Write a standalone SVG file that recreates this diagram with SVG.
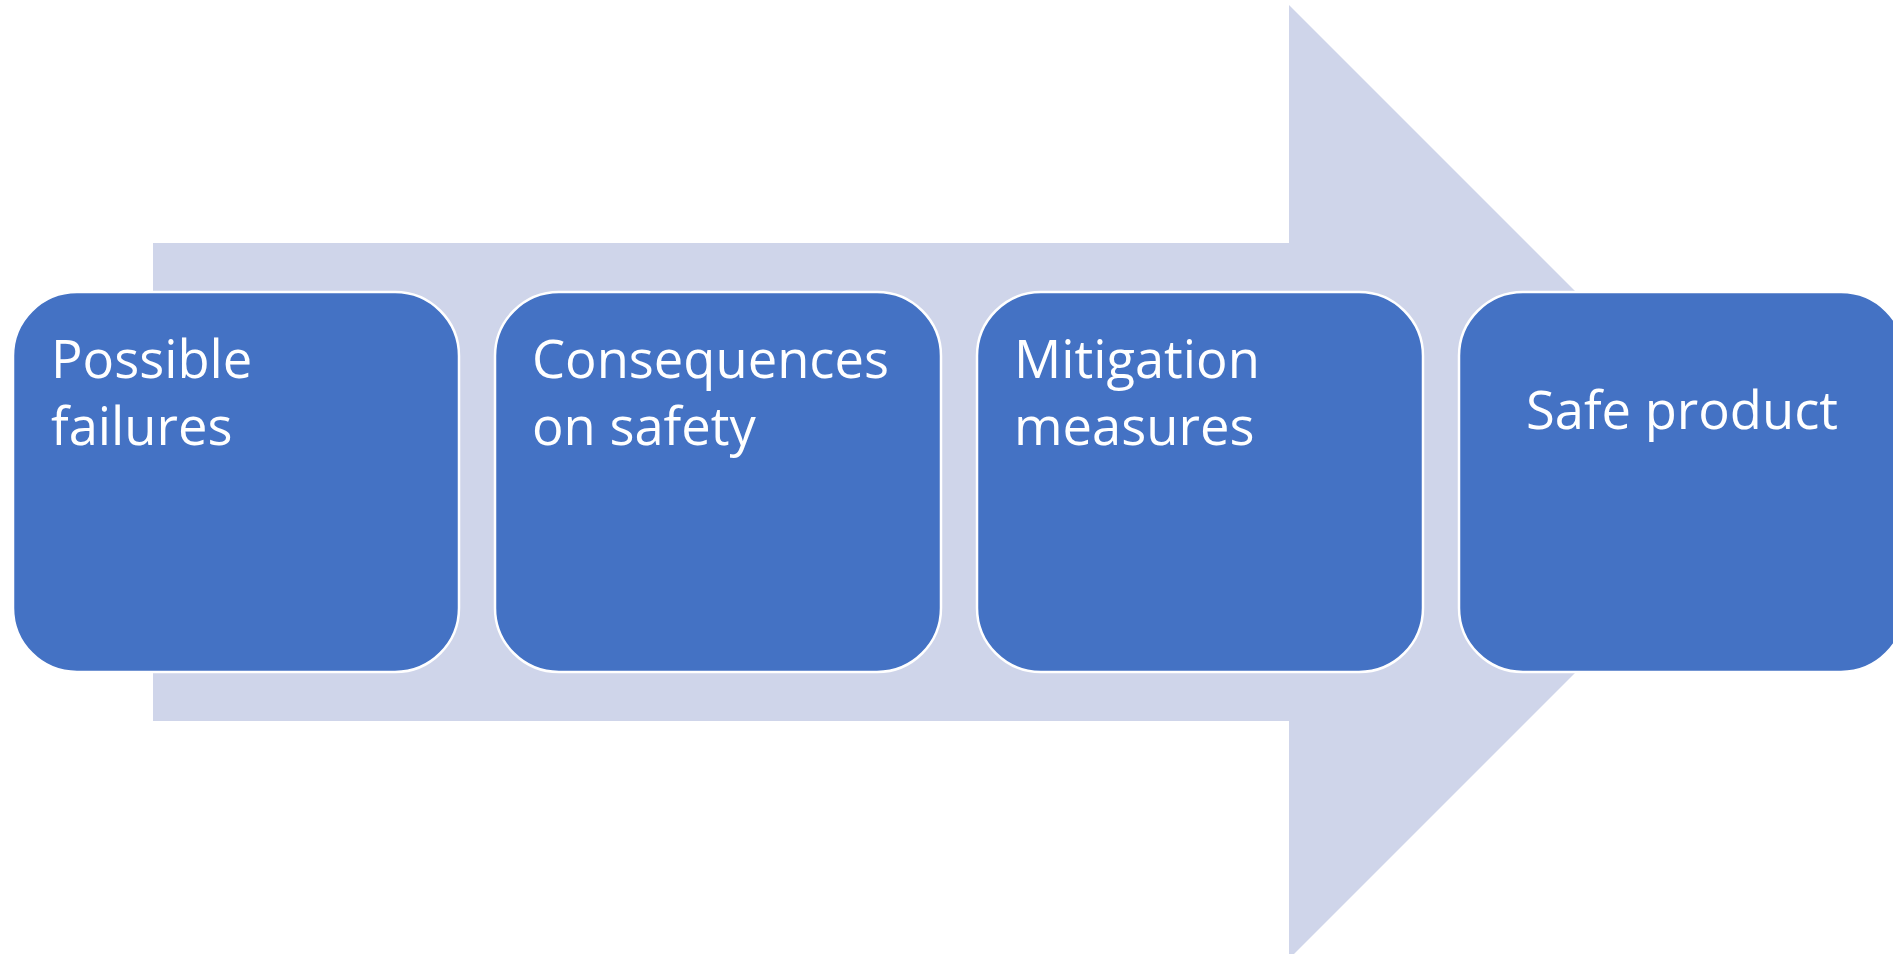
<svg xmlns="http://www.w3.org/2000/svg" width="1893" height="954" viewBox="0 0 1893 954">
<style>
.box{fill:#4472C4;stroke:#FFFFFF;stroke-width:2.5}
.lbl{fill:#FFFFFF;font-family:"Open Sans","Noto Sans",sans-serif;font-size:52.5px}
</style>
<rect width="1893" height="954" fill="#FFFFFF"/>
<g id="arrow">
<polygon points="153,243 1289,243 1289,5 1766,482 1289,959 1289,721 153,721" fill="#CFD5EA"/>
</g>
<g id="connectors"></g>
<g id="node1">
<rect class="box" x="13" y="292" width="446" height="380" rx="64" ry="64"/>
<text class="lbl" x="51" y="378">Possible</text>
<text class="lbl" x="51" y="445">failures</text>
</g>
<g id="node2">
<rect class="box" x="495" y="292" width="446" height="380" rx="64" ry="64"/>
<text class="lbl" x="532" y="378">Consequences</text>
<text class="lbl" x="532" y="445">on safety</text>
</g>
<g id="node3">
<rect class="box" x="977" y="292" width="446" height="380" rx="64" ry="64"/>
<text class="lbl" x="1014" y="378">Mitigation</text>
<text class="lbl" x="1014" y="445">measures</text>
</g>
<g id="node4">
<rect class="box" x="1459" y="292" width="446" height="380" rx="64" ry="64"/>
<text class="lbl" x="1682" y="429" text-anchor="middle">Safe product</text>
</g>
</svg>
